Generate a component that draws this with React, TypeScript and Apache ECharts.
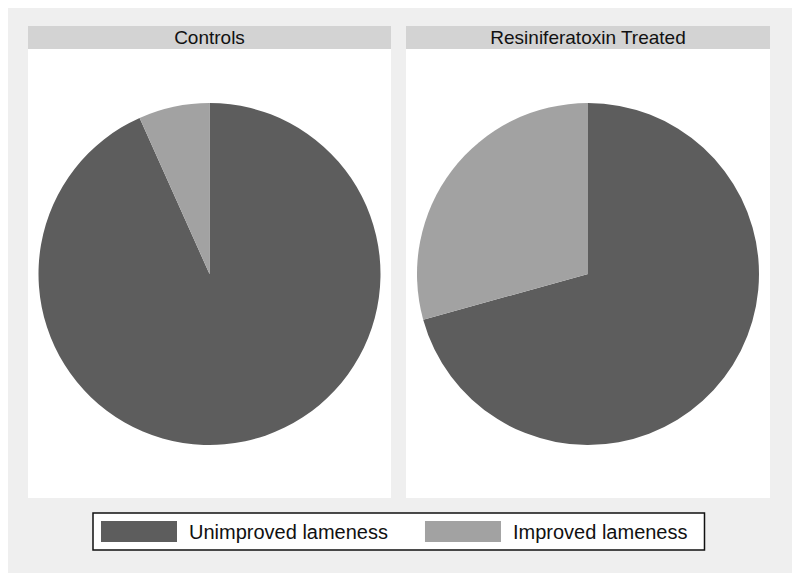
import React, { useEffect, useRef } from "react";
import * as echarts from "echarts";

const categories = ["Unimproved lameness", "Improved lameness"];
const panelTitles = ["Controls", "Resiniferatoxin Treated"];
const controlsValues = [93.3, 6.7];
const treatedValues = [70.7, 29.3];
const colors = ["#5d5d5d", "#a2a2a2"];

export default function App() {
  const ref = useRef<HTMLDivElement>(null);
  useEffect(() => {
    if (!ref.current) return;
    const chart = echarts.init(ref.current, null, { renderer: "svg" });
    const mk = (vals: number[]) => categories.map((c, i) => ({ name: c, value: vals[i] }));
    chart.setOption({
      animation: false,
      backgroundColor: "#ffffff",
      color: colors,
      graphic: [
        { type: "rect", shape: { x: 8, y: 8, width: 784, height: 565 }, style: { fill: "#efefef" }, silent: true, z: -10 },
        { type: "rect", shape: { x: 28, y: 49, width: 363, height: 449 }, style: { fill: "#ffffff" }, silent: true, z: -9 },
        { type: "rect", shape: { x: 406, y: 49, width: 364, height: 449 }, style: { fill: "#ffffff" }, silent: true, z: -9 },
        { type: "rect", shape: { x: 28, y: 26, width: 363, height: 23 }, style: { fill: "#d3d3d3" }, silent: true, z: -9 },
        { type: "rect", shape: { x: 406, y: 26, width: 364, height: 23 }, style: { fill: "#d3d3d3" }, silent: true, z: -9 },
        {
          type: "text", x: 209.5, y: 37.5, silent: true,
          style: { text: panelTitles[0], fill: "#111", font: "19px 'Liberation Sans', Arial, sans-serif", textAlign: "center", textVerticalAlign: "middle" },
        },
        {
          type: "text", x: 588, y: 37.5, silent: true,
          style: { text: panelTitles[1], fill: "#111", font: "19px 'Liberation Sans', Arial, sans-serif", textAlign: "center", textVerticalAlign: "middle" },
        },
      ],
      legend: {
        data: categories,
        left: 93,
        top: 513,
        orient: "horizontal",
        icon: "rect",
        itemWidth: 76,
        itemHeight: 21,
        itemGap: 37,
        padding: [8, 17, 8, 8],
        backgroundColor: "#ffffff",
        borderColor: "#111111",
        borderWidth: 1.5,
        borderRadius: 0,
        selectedMode: false,
        textStyle: { fontSize: 20, color: "#111", fontFamily: "'Liberation Sans', Arial, sans-serif", padding: [0, 0, 0, 7] },
      },
      series: [
        {
          type: "pie",
          center: [209.5, 274],
          radius: [0, 171],
          startAngle: 90,
          clockwise: true,
          label: { show: false },
          labelLine: { show: false },
          itemStyle: { borderWidth: 0 },
          emphasis: { disabled: true },
          data: mk(controlsValues),
        },
        {
          type: "pie",
          center: [588, 274],
          radius: [0, 171],
          startAngle: 90,
          clockwise: true,
          label: { show: false },
          labelLine: { show: false },
          itemStyle: { borderWidth: 0 },
          emphasis: { disabled: true },
          data: mk(treatedValues),
        },
      ],
    });
    return () => chart.dispose();
  }, []);
  return <div ref={ref} style={{ width: 800, height: 582, position: "absolute", left: 0, top: 0 }} />;
}
